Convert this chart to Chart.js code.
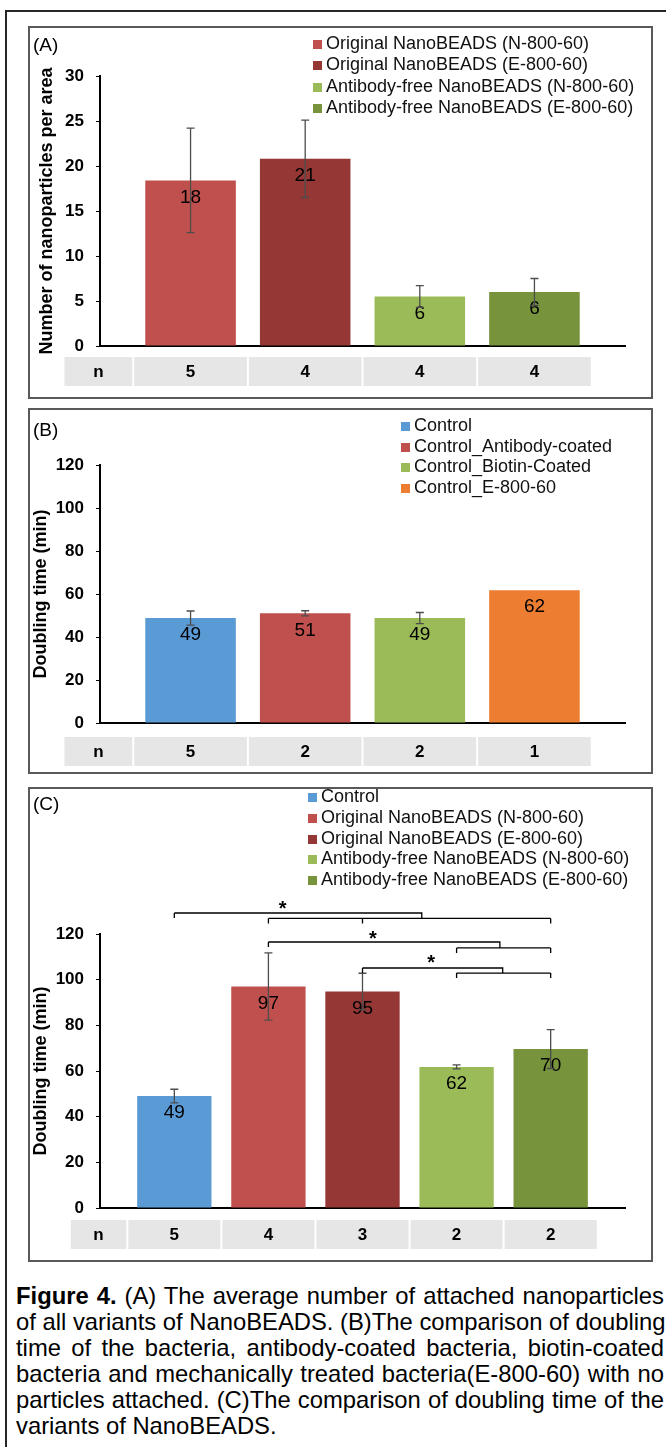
<!DOCTYPE html>
<html>
<head>
<meta charset="utf-8">
<script src="https://cdn.jsdelivr.net/npm/chart.js@4"></script>
<style>
  body { margin: 0; background: #fff; font-family: "Liberation Sans", Arial, sans-serif; color: #000; }
  #page { position: relative; width: 666px; height: 1447px; overflow: hidden; }
  .frame { position: absolute; left: 5px; top: 10px; width: 720px; height: 1500px; border: 2px solid #262626; box-sizing: border-box; }
  .panel { position: absolute; left: 28px; width: 625px; border: 2px solid #595959; box-sizing: border-box; }
  canvas { position: absolute; left: 30px; }
  .tag { position: absolute; left: 33px; font-size: 19px; line-height: 22px; }
  .legend { position: absolute; font-size: 18px; white-space: nowrap; color: #111; }
  .legend .sw { display: inline-block; width: 9px; height: 9px; margin-right: 4px; position: relative; top: 0px; }
  .caption { position: absolute; left: 16px; top: 1283px; width: 648px; font-size: 23.8px; line-height: 26px; }
  .caption div { white-space: nowrap; text-align: justify; text-align-last: justify; }
  .caption div.last { text-align-last: left; }
</style>
</head>
<body>
<div id="page">
  <div class="frame"></div>

  <div class="panel" style="top:26px;height:373px;"></div>
  <div class="panel" style="top:408px;height:366px;"></div>
  <div class="panel" style="top:787px;height:475px;"></div>

  <canvas id="chartA" width="621" height="369" style="top:28px;"></canvas>
  <canvas id="chartB" width="621" height="362" style="top:410px;"></canvas>
  <canvas id="chartC" width="621" height="471" style="top:789px;"></canvas>

  <div class="tag" style="top:34px;">(A)</div>
  <div class="tag" style="top:419px;">(B)</div>
  <div class="tag" style="top:793px;">(C)</div>

  <div class="legend" id="legA" style="left:313px;top:33px;line-height:21.3px;"></div>
  <div class="legend" id="legB" style="left:401px;top:415px;line-height:20.5px;"></div>
  <div class="legend" id="legC" style="left:308px;top:786px;line-height:20.8px;"></div>

  <div class="caption">
    <div><b>Figure 4.</b> (A) The average number of attached nanoparticles</div>
    <div>of all variants of NanoBEADS. (B)The comparison of doubling</div>
    <div>time of the bacteria, antibody-coated bacteria, biotin-coated</div>
    <div>bacteria and mechanically treated bacteria(E-800-60) with no</div>
    <div>particles attached. (C)The comparison of doubling time of the</div>
    <div class="last">variants of NanoBEADS.</div>
  </div>
</div>

<script>
// ---- data ----
const catsA = ['Original NanoBEADS (N-800-60)', 'Original NanoBEADS (E-800-60)',
               'Antibody-free NanoBEADS (N-800-60)', 'Antibody-free NanoBEADS (E-800-60)'];
const valsA = [18.4, 20.8, 5.5, 6.0];
const errA  = [5.8, 4.3, 1.2, 1.5];
const nA    = [5, 4, 4, 4];
const colorsA = ['#c0504d', '#953735', '#9bbb59', '#77933c'];

const catsB = ['Control', 'Control_Antibody-coated', 'Control_Biotin-Coated', 'Control_E-800-60'];
const valsB = [48.8, 51.0, 48.8, 61.8];
const errB  = [3.3, 1.2, 2.6, 0];
const nB    = [5, 2, 2, 1];
const colorsB = ['#5b9bd5', '#c0504d', '#9bbb59', '#ed7d31'];

const catsC = ['Control', 'Original NanoBEADS (N-800-60)', 'Original NanoBEADS (E-800-60)',
               'Antibody-free NanoBEADS (N-800-60)', 'Antibody-free NanoBEADS (E-800-60)'];
const valsC = [49.0, 97.0, 94.8, 61.8, 69.6];
const errC  = [3.0, 14.7, 8.0, 0.9, 8.5];
const nC    = [5, 4, 3, 2, 2];
const colorsC = ['#5b9bd5', '#c0504d', '#953735', '#9bbb59', '#77933c'];

// significance brackets on (C): groups are bar positions (1-based), levels in minutes
const sigC = [
  { from: [1], to: [2, 3, 5], hi: 129.2, lo: 126.8, join: 3.63, star: [2.15, 133.2] },
  { from: [2], to: [4, 5],    hi: 116.5, lo: 113.9, join: 4.46, star: [3.11, 120.4] },
  { from: [3], to: [4, 5],    hi: 105.1, lo: 102.9, join: 4.49, star: [3.73, 109.5] },
];

const FONT = '"Liberation Sans", Arial, sans-serif';
Chart.defaults.font.family = FONT;
Chart.defaults.color = '#000';

function buildLegend(id, cats, colors) {
  document.getElementById(id).innerHTML = cats.map((c, i) =>
    `<div><span class="sw" style="background:${colors[i]}"></span>${c}</div>`).join('');
}
buildLegend('legA', catsA, colorsA);
buildLegend('legB', catsB, colorsB);
buildLegend('legC', catsC, colorsC);

// value labels, error bars, the n row and brackets
const extras = {
  id: 'extras',
  afterDatasetsDraw(chart, args, o) {
    const ctx = chart.ctx, xs = chart.scales.x, ys = chart.scales.y, area = chart.chartArea;
    const meta = chart.getDatasetMeta(0);
    const vals = chart.data.datasets[0].data.map(d => d.y);
    ctx.save();

    // labels inside the bars
    ctx.fillStyle = '#000';
    ctx.font = '19px ' + FONT;
    ctx.textAlign = 'center';
    ctx.textBaseline = 'middle';
    meta.data.forEach((bar, i) => ctx.fillText(String(Math.round(vals[i])), bar.x, bar.y + 17));

    // error bars
    ctx.strokeStyle = '#4d4d4d';
    ctx.lineWidth = 1.3;
    meta.data.forEach((bar, i) => {
      const e = o.errors[i];
      if (!e) return;
      const t = ys.getPixelForValue(vals[i] + e), b = ys.getPixelForValue(vals[i] - e);
      ctx.beginPath();
      ctx.moveTo(bar.x, t); ctx.lineTo(bar.x, b);
      ctx.moveTo(bar.x - 4, t); ctx.lineTo(bar.x + 4, t);
      ctx.moveTo(bar.x - 4, b); ctx.lineTo(bar.x + 4, b);
      ctx.stroke();
    });

    // n row under the axis
    const top = area.bottom + o.rowGap, h = 29;
    const slot = xs.getPixelForValue(2) - xs.getPixelForValue(1);
    ctx.font = 'bold 17px ' + FONT;
    const cell = (l, r, txt) => {
      ctx.fillStyle = '#e6e6e6';
      ctx.fillRect(l, top, r - l, h);
      ctx.fillStyle = '#000';
      ctx.fillText(txt, (l + r) / 2, top + h / 2 + 1);
    };
    const firstEdge = xs.getPixelForValue(0.5);
    cell(firstEdge - 0.6 * slot, firstEdge - 1, 'n');
    o.n.forEach((v, i) => cell(xs.getPixelForValue(i + 0.5) + 1, xs.getPixelForValue(i + 1.5) - 1, String(v)));

    // significance brackets
    (o.brackets || []).forEach(bk => {
      const hi = ys.getPixelForValue(bk.hi), lo = ys.getPixelForValue(bk.lo);
      const jx = xs.getPixelForValue(bk.join);
      const fx = bk.from.map(p => xs.getPixelForValue(p));
      const tx = bk.to.map(p => xs.getPixelForValue(p));
      ctx.strokeStyle = '#000';
      ctx.lineWidth = 1.3;
      ctx.beginPath();
      ctx.moveTo(Math.min(...fx), hi); ctx.lineTo(jx, hi); ctx.lineTo(jx, lo);
      fx.forEach(px => { ctx.moveTo(px, hi); ctx.lineTo(px, hi + 5); });
      ctx.moveTo(Math.min(...tx), lo); ctx.lineTo(Math.max(...tx), lo);
      tx.forEach(px => { ctx.moveTo(px, lo); ctx.lineTo(px, lo + 5); });
      ctx.stroke();
      ctx.fillStyle = '#000';
      ctx.font = 'bold 20px ' + FONT;
      ctx.textBaseline = 'alphabetic';
      ctx.fillText('*', xs.getPixelForValue(bk.star[0]), ys.getPixelForValue(bk.star[1]) + 11.5);
      ctx.textBaseline = 'middle';
    });
    ctx.restore();
  }
};

function makePanel(id, vals, colors, errors, n, cfg) {
  const pad = 0.79;
  new Chart(document.getElementById(id), {
    type: 'bar',
    data: {
      datasets: [{
        data: vals.map((v, i) => ({ x: i + 1, y: v })),
        backgroundColor: colors,
        borderWidth: 0,
        categoryPercentage: 1,
        barPercentage: 0.79
      }]
    },
    options: {
      responsive: false,
      animation: false,
      devicePixelRatio: 1,
      layout: { padding: { left: 0, right: 26, top: cfg.top, bottom: cfg.bottom } },
      plugins: {
        legend: { display: false },
        tooltip: { enabled: false },
        extras: { errors, n, brackets: cfg.brackets, rowGap: cfg.rowGap }
      },
      scales: {
        x: {
          type: 'linear',
          offset: false,
          min: 1 - pad,
          max: vals.length + pad,
          afterBuildTicks: s => { s.ticks = vals.map((v, i) => ({ value: i + 1 })); },
          afterFit: s => { s.height = 0; },
          ticks: { display: false },
          grid: { display: false, offset: false },
          border: { display: true, color: '#000', width: 2 }
        },
        y: {
          min: 0,
          max: cfg.max,
          afterFit: s => { s.width = 70; },
          ticks: { stepSize: cfg.step, padding: 12, color: '#000', font: { size: 17, weight: 'bold' } },
          grid: { display: true, drawOnChartArea: false, drawTicks: true, tickLength: 4, color: '#000', lineWidth: 1 },
          border: { display: true, color: '#000', width: 2 },
          title: {
            display: true,
            text: cfg.title,
            color: '#000',
            font: { size: 18, weight: 'bold' },
            padding: { top: cfg.titlePad, bottom: 0 }
          }
        }
      }
    },
    plugins: [extras]
  });
}

makePanel('chartA', valsA, colorsA, errA, nA,
  { top: 48, bottom: 51, max: 30, step: 5, title: 'Number of nanoparticles per area', titlePad: 6, rowGap: 11 });
makePanel('chartB', valsB, colorsB, errB, nB,
  { top: 55, bottom: 49, max: 120, step: 20, title: 'Doubling time (min)', titlePad: 0, rowGap: 14 });
makePanel('chartC', valsC, colorsC, errC, nC,
  { top: 145, bottom: 52, max: 120, step: 20, title: 'Doubling time (min)', titlePad: 0, rowGap: 12, brackets: sigC });
</script>
</body>
</html>
